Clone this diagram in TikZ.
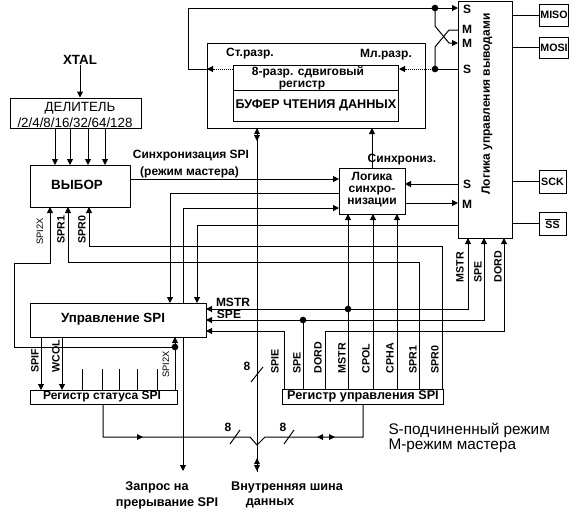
\documentclass[tikz,border=0pt]{standalone}
\usepackage{fontspec}
\setmainfont{Liberation Sans}
\usetikzlibrary{arrows.meta,fit}
\newcommand{\fsz}[1]{\fontsize{#1}{#1}\selectfont}
\begin{document}
\begin{tikzpicture}[x=0.75pt,y=-0.75pt,line width=0.75pt,
  arr/.style={-{Triangle[length=4.5pt,width=4.5pt]}},
  dotl/.style={dash pattern=on 0.75pt off 0.75pt},
  bx/.style={draw,inner sep=0},
  bt/.style={font=\fsz{9}\bfseries,inner sep=0},
  bt10/.style={font=\fsz{10}\bfseries,inner sep=0},
  rg/.style={font=\fsz{10}\selectfont,inner sep=0},
  lg/.style={font=\fsz{11.5}\selectfont,inner sep=0,anchor=west},
  vl/.style={font=\fsz{8}\bfseries,inner sep=0,rotate=90,anchor=west},
  vs/.style={font=\fsz{7}\selectfont,inner sep=0,rotate=90,anchor=west},
  jdot/.style={circle,fill,inner sep=0,minimum size=5pt}]
\useasboundingbox (0,0) rectangle (572,512);

% boxes
\node[bx,fit={(10,98) (141,128)}] (div) {};
\node[bx,fit={(30,165) (130,207)}] (vybor) {};
\node[bx,fit={(30,303) (206,337)}] (upr) {};
\node[bx,fit={(30,390) (177,404)}] (stat) {};
\node[bx,fit={(282,389) (443,404)}] (ctrl) {};
\node[bx,fit={(339,168) (405,214)}] (sync) {};
\node[bx,fit={(458,1) (512,238)}] (pins) {};
\node[bx,fit={(207,43) (425,128)}] (shift) {};
\node[bx,fit={(233,65) (398,121)}] (inner) {};
\draw (233,90) -- (398,90);
\node[bx,fit={(539,4) (568,26)}] (miso) {};
\node[bx,fit={(539,37) (568,58)}] (mosi) {};
\node[bx,fit={(539,170) (566,193)}] (sck) {};
\node[bx,fit={(539,212) (566,235)}] (ss) {};

% texts in boxes
\node[bt10] (xtal) at (80,60) {XTAL};
\node[rg] (divt1) at (80,108) {ДЕЛИТЕЛЬ};
\node[rg] (divt2) at (75,122.5) {/2/4/8/16/32/64/128};
\node[bt10] (vybort) at (77,185) {ВЫБОР};
\node[bt10] (uprt) at (113,319) {Управление SPI};
\node[bt] (statt) at (102,396.5) {Регистр статуса SPI};
\node[font=\fsz{9.5}\bfseries,inner sep=0] (ctrlt) at (363,396.5) {Регистр управления SPI};
\node[bt,text height=6pt,text depth=1pt] (synct) at (372,177) {Логика};
\node[bt,text height=6pt,text depth=1pt] (synct2) at (372,189.5) {синхро-};
\node[bt,text height=6pt,text depth=1pt] (synct3) at (372,201.5) {низации};
\node[bt,rotate=90] (pinst) at (487,104) {Логика управления выводами};
\node[bt] (st) at (250,54) {Ст.разр.};
\node[bt] (ml) at (386,55) {Мл.разр.};
\node[bt,text height=6pt,text depth=0.5pt] (in1) at (308,72) {8-разр. сдвиговый};
\node[bt,text height=6pt,text depth=1.5pt] (in2) at (302,84) {регистр};
\node[font=\fsz{9.5}\bfseries,inner sep=0] (in3) at (316,105) {БУФЕР ЧТЕНИЯ ДАННЫХ};
\node[font=\fsz{8}\bfseries,inner sep=0] (misot) at (554,15) {MISO};
\node[font=\fsz{8}\bfseries,inner sep=0] (mosit) at (554,47.5) {MOSI};
\node[font=\fsz{8}\bfseries,inner sep=0] (sckt) at (552.5,181.5) {SCK};
\node[font=\fsz{8}\bfseries,inner sep=0] (sst) at (552.5,223.5) {$\overline{\hbox{SS}}$};

% pin letters
\node[bt] (ps1) at (467,9) {S};
\node[bt] (pm1) at (467,29) {M};
\node[bt] (pm2) at (467,43) {M};
\node[bt] (ps2) at (467,69) {S};
\node[bt] (ps3) at (467,184) {S};
\node[bt] (pm3) at (467,204) {M};

% XTAL and divider
\draw[arr] (xtal.south) -- (xtal.south |- div.north);
\foreach \x in {55,70,88,105} \draw[arr] (\x,128) -- (\x,165);

% sync SPI
\draw[arr] (130,179) -- (339,179);
\node[bt] (syl1) at (191,156) {Синхронизация SPI};
\node[bt] (syl2) at (189.5,172) {(режим мастера)};
\draw[arr] (339,193) -- (170,193) -- (170,303);
\draw[arr] (183,303) -- (183,208) -- (339,208);
\draw[arr] (458,225) -- (197,225) -- (197,303);

% SPR0 / SPR1 / SPI2X to VYBOR
\draw[arr] (442,389) -- (442,246) -- (89,246) -- (89,207);
\draw[arr] (419,389) -- (419,262) -- (68,262) -- (68,207);
\draw[arr] (175,390) -- (175,337);
\draw[arr] (175,347) -- (14,347) -- (14,263) -- (50,263) -- (50,207);
\node[jdot] (d1) at (175,347) {};
\node[vs] (l1) at (40,245) {SPI2X};
\node[vl] (l2) at (61,244) {SPR1};
\node[vl] (l3) at (82,244) {SPR0};

% MSTR, SPE, SPIE, DORD, CPOL, CPHA
\draw[arr] (348,389) -- (348,214);
\draw[arr] (348,309) -- (206,309);
\draw[arr] (348,309) -- (468,309) -- (468,238);
\node[jdot] (d2) at (348,309) {};
\draw (303,389) -- (303,320);
\draw[arr] (303,320) -- (206,320);
\draw[arr] (303,320) -- (484,320) -- (484,238);
\node[jdot] (d3) at (303,320) {};
\draw[arr] (284,389) -- (284,331) -- (206,331);
\draw[arr] (325,389) -- (325,331) -- (504,331) -- (504,238);
\draw[arr] (373,389) -- (373,214);
\draw[arr] (397,389) -- (397,214);
\node[bt] (lm) at (233,302) {MSTR};
\node[bt] (ls) at (229,314.5) {SPE};
\node[vl] (p1) at (460,283) {MSTR};
\node[vl] (p2) at (478,283) {SPE};
\node[vl] (p3) at (498,283) {DORD};
\foreach \x/\t in {275/SPIE,297/SPE,318/DORD,342/MSTR,366/CPOL,390/CPHA,413/SPR1,435/SPR0}
  \node[vl] (c\t) at (\x,374) {\t};

% status register
\draw[arr] (41,337) -- (41,390);
\draw[arr] (62,337) -- (62,390);
\foreach \x in {82,102,119,137,157} \draw (\x,369) -- (\x,390);
\node[vl] (s1) at (35,373) {SPIF};
\node[vl] (s2) at (56,373) {WCOL};
\node[vs] (s3) at (166,378) {SPI2X};

% interrupt
\draw[arr] (183,337) -- (183,471);
\node[font=\fsz{9.5}\bfseries,inner sep=0] (irq1) at (157,487) {Запрос на};
\node[font=\fsz{9.5}\bfseries,inner sep=0] (irq2) at (167,503) {прерывание SPI};

% data bus
\draw (257,128) -- (257,472);
\fill (254,134) -- (260,134) -- (257,128) -- cycle;
\fill (254,135) -- (260,135) -- (257,141) -- cycle;
\fill (254,464) -- (260,464) -- (257,458) -- cycle;
\fill (254,465) -- (260,465) -- (257,471) -- cycle;
\draw (251,382) -- (263,367);
\node[bt] (b8) at (247,366) {8};
\node[font=\fsz{9.5}\bfseries,inner sep=0] (bus1) at (287,487) {Внутренняя шина};
\node[font=\fsz{9.5}\bfseries,inner sep=0] (bus2) at (270,503) {данных};

\draw (103,404) -- (103,437) -- (250,437) -- (257,445) -- (265,437) -- (363,437) -- (363,404);
\fill (137,434) -- (137,440) -- (143,437) -- cycle;
\fill (323,434) -- (323,440) -- (317,437) -- cycle;
\fill (329,434) -- (329,440) -- (335,437) -- cycle;
\draw (230,444) -- (240,430);
\draw (284,444) -- (294,430);
\node[bt] (h8a) at (228,427) {8};
\node[bt] (h8b) at (283,427) {8};

% sync <-> shift, pins
\draw[arr] (372,168) -- (372,128);
\node[bt] (syn) at (402,160) {Синхрониз.};
\draw[arr] (458,184) -- (405,184);
\draw[arr] (405,203) -- (458,203);

% pin outputs
\draw (512,15) -- (539,15);
\draw (512,47) -- (539,47);
\draw (512,181) -- (539,181);
\draw (512,223) -- (539,223);

% shift register connections
\draw[arr,dotl] (233,69) -- (207,69);
\draw[arr] (207,69) -- (188,69) -- (188,8) -- (458,8);
\node[jdot] (d4) at (435,8) {};
\draw[arr] (435,8) -- (435,26) -- (449,43) -- (458,43);
\draw (458,69) -- (435,69);
\node[jdot] (d5) at (435,69) {};
\draw[arr,dotl] (435,69) -- (399,69);
\draw (435,69) -- (435,47) -- (449,30) -- (458,30);

% legend
\node[lg] (leg1) at (388,430) {S-подчиненный режим};
\node[lg] (leg2) at (388,446) {M-режим мастера};
\end{tikzpicture}
\end{document}
